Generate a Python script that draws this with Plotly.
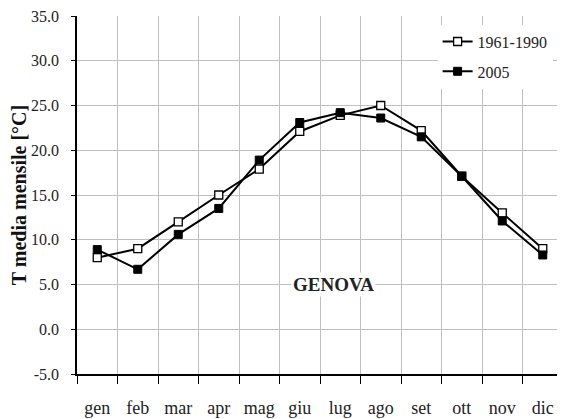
import plotly.graph_objects as go

# ── data ────────────────────────────────────────────────────────────────────
MONTHS = ["gen", "feb", "mar", "apr", "mag", "giu", "lug", "ago", "set", "ott", "nov", "dic"]
T_1961_1990 = [8.0, 9.0, 12.0, 15.0, 17.9, 22.1, 23.9, 25.0, 22.2, 17.1, 13.0, 9.0]
T_2005 = [8.9, 6.7, 10.6, 13.5, 18.9, 23.1, 24.2, 23.6, 21.5, 17.1, 12.1, 8.3]
Y_TICKS = [-5, 0, 5, 10, 15, 20, 25, 30, 35]
Y_TICK_LABELS = [f"{v:.1f}" for v in Y_TICKS]  # plain hyphen for "-5.0"

SERIF = "Liberation Serif"

fig = go.Figure()

fig.add_trace(
    go.Scatter(
        x=MONTHS,
        y=T_1961_1990,
        name="1961-1990",
        legendgroup="a",
        mode="lines+markers",
        line=dict(color="black", width=2),
        marker=dict(symbol="square", size=8, color="white", line=dict(color="black", width=1.3)),
    )
)
fig.add_trace(
    go.Scatter(
        x=MONTHS,
        y=T_2005,
        name="2005",
        legendgroup="b",
        mode="lines+markers",
        line=dict(color="black", width=2),
        marker=dict(symbol="square", size=8, color="black", line=dict(color="black", width=1)),
    )
)

fig.add_annotation(
    text="<b>GENOVA</b>",
    xref="paper", yref="y",
    x=0.527, y=5.0,
    showarrow=False,
    bgcolor="white",
    font=dict(family=SERIF, size=19, color="#222222"),
)

# page body has an 8px margin, so the figure is 8px smaller than the window
fig.update_layout(
    width=557,
    height=411,
    margin=dict(l=69, r=2, t=8, b=45),
    paper_bgcolor="#FFFFFF",
    plot_bgcolor="#FFFFFF",
    font=dict(family=SERIF, size=13, color="#222222"),
    showlegend=True,
    legend=dict(
        x=0.742, y=0.976, xanchor="left", yanchor="top",
        bgcolor="white",
        font=dict(family=SERIF, size=16, color="#222222"),
        tracegroupgap=6,
        itemwidth=30,
    ),
    xaxis=dict(
        type="category",
        range=[-0.5, 11.5],
        automargin=False,
        tickson="boundaries",
        ticks="outside",
        ticklen=8,
        tickcolor="black",
        showgrid=True,
        gridcolor="#C0C0C0",
        showline=True,
        linecolor="black",
        linewidth=1.5,
        ticklabelstandoff=17,
        tickfont=dict(family=SERIF, size=18, color="#222222"),
        zeroline=False,
    ),
    yaxis=dict(
        range=[-5, 35],
        automargin=False,
        tickvals=Y_TICKS,
        ticktext=Y_TICK_LABELS,
        ticks="outside",
        ticklen=4,
        tickcolor="black",
        showgrid=True,
        gridcolor="#C0C0C0",
        showline=True,
        linecolor="black",
        linewidth=1.5,
        zeroline=False,
        ticklabelstandoff=9,
        ticklabeloverflow="allow",
        tickfont=dict(family=SERIF, size=16, color="#222222"),
        title=dict(
            text="<b>T media mensile [°C]</b>",
            font=dict(family=SERIF, size=20, color="#111111"),
            standoff=4,
        ),
    ),
)

fig.write_html("out.html")
